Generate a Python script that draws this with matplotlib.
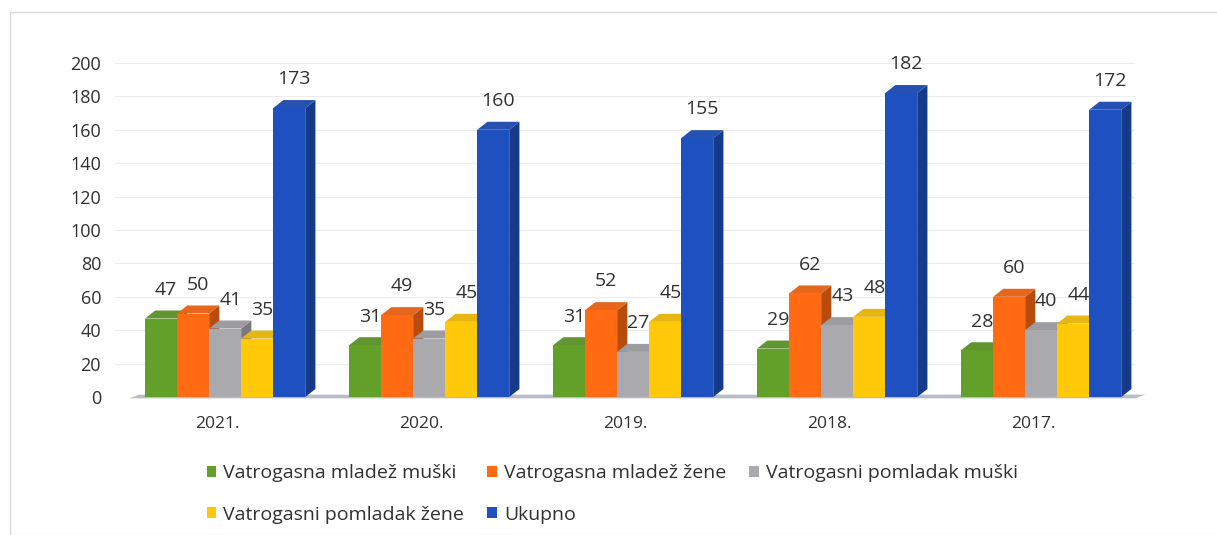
import matplotlib
matplotlib.use("Agg")
import matplotlib.pyplot as plt
from matplotlib.patches import Polygon, Rectangle
import matplotlib.colors as mcolors
import numpy as np

plt.rcParams['font.family'] = ['Open Sans', 'DejaVu Sans']

years = ["2021.", "2020.", "2019.", "2018.", "2017."]
series_names = ["Vatrogasna mladež muški", "Vatrogasna mladež žene",
                "Vatrogasni pomladak muški", "Vatrogasni pomladak žene", "Ukupno"]
mladez_muski = [47, 31, 31, 29, 28]
mladez_zene = [50, 49, 52, 62, 60]
pomladak_muski = [41, 35, 27, 43, 40]
pomladak_zene = [35, 45, 45, 48, 44]
ukupno = [173, 160, 155, 182, 172]
series = [mladez_muski, mladez_zene, pomladak_muski, pomladak_zene, ukupno]
colors = ["#62a02a", "#ff6a12", "#a9a9ae", "#ffc808", "#1f50c0"]
yticks = list(range(0, 201, 20))

W, H = 1217, 535
fig = plt.figure(figsize=(W / 100, H / 100), dpi=100)
fig.patch.set_facecolor("white")
# faint outer frame
fig.patches.append(Rectangle((10 / W, 0), 1.2, (H - 12) / H, transform=fig.transFigure,
                             fill=False, edgecolor="#d9d9d9", linewidth=1.0))

ax = fig.add_axes([115 / W, (H - 397) / H, 1020 / W, (397 - 63) / H])
ax.set_xlim(-0.5, 4.5)
ax.set_ylim(0, 200)
for s in ax.spines.values():
    s.set_visible(False)
ax.set_yticks(yticks)
ax.set_yticklabels([str(t) for t in yticks], fontsize=13, color="#303030")
ax.tick_params(axis="y", length=0, pad=10)
ax.tick_params(axis="x", length=0, pad=14, labelsize=12.5, labelcolor="#303030")
ax.set_xticks(range(len(years)))
ax.set_xticklabels(years)
ax.grid(axis="y", color="#ececec", linewidth=0.8)
ax.set_axisbelow(True)

bw = 0.157
dx = 0.05
dy = 4.8
shift = 0.04
x = np.arange(len(years))

# floor shadow
ax.add_patch(Polygon([(-0.43, -0.8), (4.5, -0.8), (4.5 + dx, 1.4), (-0.43 + dx, 1.4)],
                     closed=True, facecolor="#b8bcc8", edgecolor="none", zorder=1, clip_on=False))

handles = []
for gi in range(len(years)):
    for si, vals in enumerate(series):
        v = vals[gi]
        x0 = x[gi] + (si - 2) * bw + shift - bw / 2
        base = mcolors.to_rgb(colors[si])
        dark = tuple(c * 0.72 for c in base)
        light = tuple(min(1, c * 0.85 + 0.05) for c in base)
        z = 3 + gi * 10 + si
        # side face
        ax.add_patch(Polygon([(x0 + bw, 0), (x0 + bw + dx, dy), (x0 + bw + dx, v + dy), (x0 + bw, v)],
                             closed=True, facecolor=dark, edgecolor="none", zorder=z, clip_on=False))
        # top face
        ax.add_patch(Polygon([(x0, v), (x0 + dx, v + dy), (x0 + bw + dx, v + dy), (x0 + bw, v)],
                             closed=True, facecolor=light, edgecolor="none", zorder=z, clip_on=False))
        b = ax.bar(x0, v, width=bw, align="edge", color=colors[si], edgecolor="none",
                   zorder=z + 0.5, label=series_names[si] if gi == 0 else None)
        if gi == 0:
            handles.append(b)
        ax.text(x0 + bw / 2 + dx / 2, v + dy + 7, str(v), ha="center", va="bottom",
                fontsize=14, color="#303030", zorder=100, clip_on=False)

order = [0, 3, 1, 4, 2]
leg = fig.legend([handles[i] for i in order], [series_names[i] for i in order],
                 ncol=3, loc="upper left", bbox_to_anchor=(189 / W, 1 - 447 / H),
                 frameon=False, fontsize=14, handlelength=0.5, handleheight=0.5,
                 handletextpad=0.35, columnspacing=1.2, labelspacing=1.2,
                 labelcolor="#303030")

fig.savefig("out.png", dpi=100, facecolor="white")
